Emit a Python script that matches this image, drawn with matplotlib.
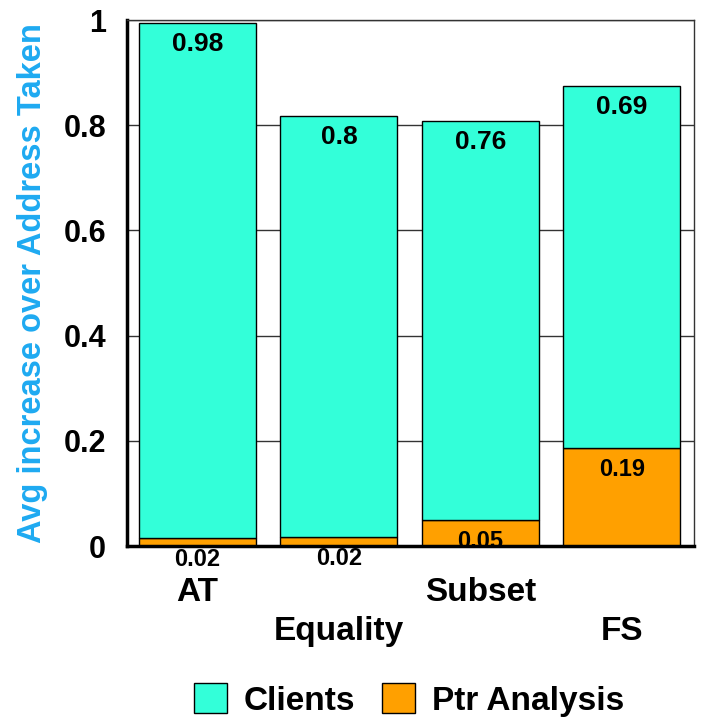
import matplotlib
matplotlib.use("Agg")
import matplotlib.pyplot as plt
from matplotlib.patches import Patch

categories = ["AT", "Equality", "Subset", "FS"]
ptr_analysis = [0.015, 0.017, 0.049, 0.186]
clients = [0.979, 0.800, 0.759, 0.689]
ptr_labels = ["0.02", "0.02", "0.05", "0.19"]
client_labels = ["0.98", "0.8", "0.76", "0.69"]
yticks = [0, 0.2, 0.4, 0.6, 0.8, 1]
ytick_labels = ["0", "0.2", "0.4", "0.6", "0.8", "1"]

plt.rcParams['font.family'] = ['Liberation Sans', 'DejaVu Sans']
plt.rcParams['font.weight'] = 'bold'

c_clients = '#33FFD9'
c_ptr = '#FFA000'

fig = plt.figure(figsize=(7.01, 7.23), dpi=100)
ax = fig.add_axes([127/701, 1-546/723, (694-127)/701, (546-20)/723])

x = list(range(len(categories)))
w = 0.827
ax.set_axisbelow(True)
ax.yaxis.grid(True, color='#333333', linewidth=1)
ax.bar(x, ptr_analysis, width=w, color=c_ptr, edgecolor='black', linewidth=1, zorder=2)
ax.bar(x, clients, width=w, bottom=ptr_analysis, color=c_clients, edgecolor='black', linewidth=1, zorder=2)

for i in x:
    top_c = ptr_analysis[i] + clients[i]
    ax.annotate(client_labels[i], (i, top_c), xytext=(0, -15), textcoords='offset points',
                ha='center', va='center', fontsize=19, fontweight='bold', zorder=5)
    ax.annotate(ptr_labels[i], (i, ptr_analysis[i]), xytext=(0, -15.5), textcoords='offset points',
                ha='center', va='center', fontsize=17, fontweight='bold', zorder=5,
                annotation_clip=False)

ax.set_xlim(-0.498, 3.509)
ax.set_ylim(0, 1)
ax.set_yticks(yticks)
ax.set_yticklabels(ytick_labels, fontsize=22, fontweight='bold')
ax.tick_params(axis='y', length=0, pad=15)
ax.set_xticks(x)
ax.set_xticklabels([c if i % 2 == 0 else "\n" + c for i, c in enumerate(categories)],
                   fontsize=24, fontweight='bold', linespacing=1.35)
ax.tick_params(axis='x', length=0, pad=22)

for s in ['left', 'bottom']:
    ax.spines[s].set_color('black')
    ax.spines[s].set_linewidth(2.5)
for s in ['top', 'right']:
    ax.spines[s].set_color('#333333')
    ax.spines[s].set_linewidth(1)

ax.set_ylabel("Avg increase over Address Taken", fontsize=23.5, fontweight='bold', color='#1EAAF1', labelpad=11)

handles = [Patch(facecolor=c_clients, edgecolor='black', label='Clients'),
           Patch(facecolor=c_ptr, edgecolor='black', label='Ptr Analysis')]
fig.legend(handles=handles, loc='center', bbox_to_anchor=(409/701, 1-700/723), ncol=2, frameon=False,
           prop={'size': 24, 'weight': 'bold'}, handlelength=1.0, handleheight=1.0, columnspacing=0.8,
           handletextpad=0.5)

fig.savefig("out.png", dpi=100)
